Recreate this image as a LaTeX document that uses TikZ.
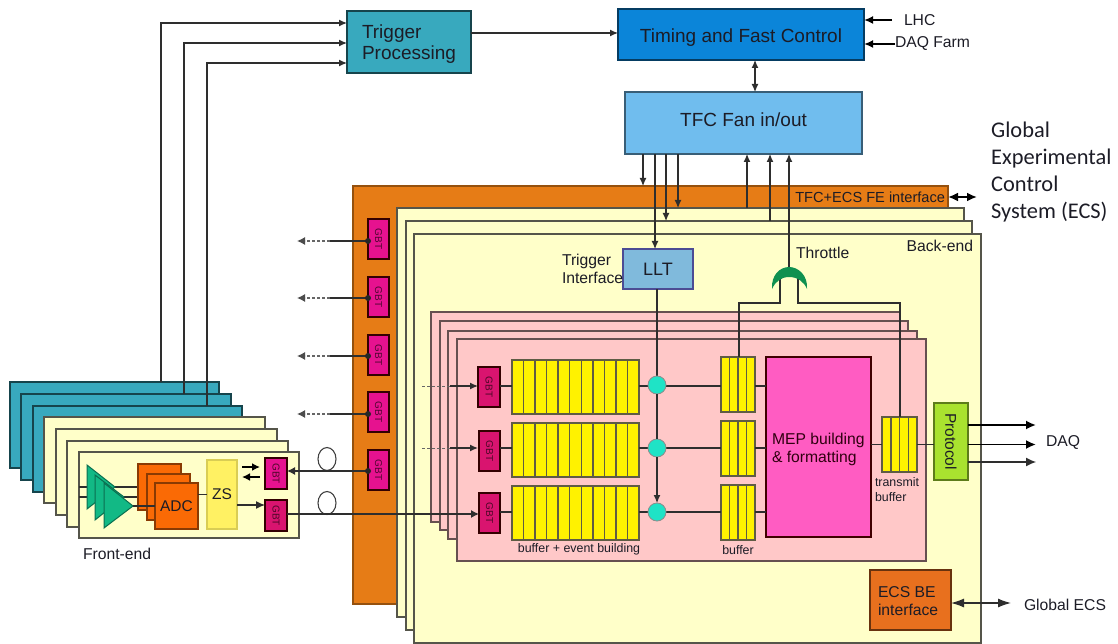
\documentclass[tikz,border=0pt]{standalone}
\usepackage{fontspec}
\usepackage{graphicx}
\setmainfont{Liberation Sans}
\newfontfamily\cali{Carlito}
\usetikzlibrary{arrows.meta,calc,shapes.geometric}
\definecolor{tealbox}{HTML}{38A9BE}
\definecolor{tfcblue}{HTML}{0B85D9}
\definecolor{fanblue}{HTML}{70BDEE}
\definecolor{lltblue}{HTML}{80BADC}
\definecolor{creamb}{HTML}{FFFFC9}
\definecolor{pinkb}{HTML}{FFC8C8}
\definecolor{orangeb}{HTML}{E67C16}
\definecolor{ecsor}{HTML}{E8701E}
\definecolor{adcor}{HTML}{FA6A05}
\definecolor{yellowb}{HTML}{FFF200}
\definecolor{zsy}{HTML}{FFF163}
\definecolor{circ}{HTML}{1FE3C6}
\definecolor{gbta}{HTML}{E6128F}
\definecolor{gbtb}{HTML}{D9146F}
\definecolor{mepc}{HTML}{FF5CC2}
\definecolor{protoc}{HTML}{A9E22F}
\definecolor{ampc}{HTML}{12B985}
\definecolor{gatec}{HTML}{0F9150}
\definecolor{edge}{HTML}{55554A}
\definecolor{ink}{HTML}{1C1C26}
\newcommand{\fsz}[2]{\fontsize{#1}{#2}\selectfont}
% \bx[style]{name}{x1}{y1}{x2}{y2}{text}
\newcommand{\bx}[7][]{%
  \pgfmathsetmacro{\bxw}{#5-#3}\pgfmathsetmacro{\bxh}{#6-#4}%
  \node[boxb,#1,minimum width=\bxw pt,minimum height=\bxh pt] (#2) at ({(#3+#5)/2},{(#4+#6)/2}) {#7};}
% cell dividers in a buffer
\newcommand{\cells}[2]{%
  \pgfmathtruncatemacro{\cellsl}{#2-1}%
  \foreach \ci in {1,...,\cellsl}{%
    \draw[cellline] ($(#1.north west)!\ci/#2!(#1.north east)$) -- ($(#1.south west)!\ci/#2!(#1.south east)$);}}
\newcommand{\gb}[1]{\rotatebox{-90}{#1}}
\tikzset{
  boxb/.style={rectangle,draw=edge,line width=1.1pt,inner sep=0pt,outer sep=0pt,text=ink,align=center},
  lab/.style={inner sep=0pt,outer sep=0pt,text=ink,align=left,font=\fsz{15.7}{18}},
  small/.style={lab,font=\fsz{12.4}{15}},
  buf/.style={fill=yellowb,draw=black!72!yellow,line width=1.2pt},
  cellline/.style={draw=black!72!yellow,line width=1.5pt},
  gbtA/.style={fill=gbta,draw=black!80!red,line width=1.5pt,font=\fsz{10}{11},text=black!65!gbta},
  gbtB/.style={fill=gbtb,draw=black!80!red,line width=1.5pt,font=\fsz{10}{11},text=black!65!gbtb},
  wire/.style={draw=black!82,line width=1.2pt},
  arr/.style={wire,-{Latex[length=8pt,width=7pt]}},
  arrthick/.style={draw=black,line width=1.8pt,-{Latex[length=10pt,width=9pt]}},
  dbl/.style={draw=black,line width=2pt,{Latex[length=10pt,width=9pt]}-{Latex[length=10pt,width=9pt]}},
  dbls/.style={wire,{Latex[length=8pt,width=7pt]}-{Latex[length=8pt,width=7pt]}},
  dashwire/.style={draw=black!60,line width=1.4pt,densely dashed},
  fibre/.style={ellipse,draw=black!75,line width=1.1pt,fill=white,minimum width=18pt,minimum height=23pt,inner sep=0pt},
  dotc/.style={circle,fill=circ,draw=black!45,line width=0.8pt,minimum size=18pt,inner sep=0pt,outer sep=0pt},
}
\begin{document}
\begin{tikzpicture}[x=1pt,y=-1pt]
\useasboundingbox (0,0) rectangle (1118,644);

% --- free-end and alignment coordinates
\foreach \xv in {161,184,207,643,655,657,666,678,739,747,770,780,789,798,900,297,305,330,422,450,1036}
  {\coordinate (x\xv) at (\xv,0);}
\foreach \yv in {23,43,63,241,298,356,414,471,386,448,514,303,425,462}
  {\coordinate (y\yv) at (0,\yv);}

% --- top blocks
\bx[fill=tealbox,draw=black!60!tealbox]{trig}{347}{11}{471}{73}{}
\node[lab,font=\fsz{19}{21},anchor=west] (trigt) at (362,44) {Trigger\\Processing};
\bx[fill=tfcblue,draw=black!55!tfcblue,font=\fsz{19}{21}]{tfc}{618}{9}{864}{60}{\raisebox{-8.5pt}[0pt][0pt]{Timing and Fast Control}}
\bx[fill=fanblue,draw=black!50!fanblue,font=\fsz{19}{21}]{fan}{625}{92}{862}{154}{\raisebox{-4pt}[0pt][0pt]{TFC Fan in/out}}
\node[lab,anchor=west] (lhc) at (904,20.5) {LHC};
\node[lab,anchor=west] (daqf) at (895,44) {DAQ Farm};
\coordinate (lhcs) at (892,20);
\draw[arrthick,-{Latex[length=9pt,width=8pt]}] (lhcs) -- (lhcs -| tfc.east);
\draw[arrthick,-{Latex[length=9pt,width=8pt]}] (daqf.west) -- (daqf.west -| tfc.east);
\draw[arr] (trig.east |- 0,33) -- (tfc.west |- 0,33);
\draw[dbls] (tfc.south -| 755,0) -- (fan.north -| 755,0);

% --- back-end stack
\bx[fill=orangeb,draw=black!35!orangeb]{be0}{353}{186}{948}{604}{}
\bx[fill=creamb]{be1}{397}{208}{964}{617}{}
\bx[fill=creamb]{be2}{406}{221}{972}{630}{}
\bx[fill=creamb]{be3}{414}{234}{981}{643}{}
\node[lab,font=\fsz{14.6}{16},anchor=east] (ifc) at (945,197) {TFC+ECS FE interface};
\node[lab,anchor=east] (bet) at (973,246) {Back-end};
\coordinate (ifcr) at (977,197);
\draw[dbl] (be0.east |- ifcr) -- (ifcr);

% --- GBT on the orange band
\bx[gbtA]{ga1}{368}{219}{389}{259}{\gb{GBT}}
\bx[gbtA]{ga2}{368}{277}{389}{317}{\gb{GBT}}
\bx[gbtA]{ga3}{368}{335}{389}{375}{\gb{GBT}}
\bx[gbtA]{ga4}{368}{392}{389}{432}{\gb{GBT}}
\bx[gbtA]{ga5}{368}{450}{389}{490}{\gb{GBT}}
\foreach \nn/\yy in {ga1/241,ga2/298,ga3/356,ga4/414}{
  \draw[dashwire] (x330 |- y\yy) -- (x305 |- y\yy);
  \draw[wire,line width=1.5pt] (\nn.west |- y\yy) -- (x330 |- y\yy);
  \fill[black!85] (\nn.west |- y\yy) circle (3pt);
  \draw[draw=black!70,line width=1.2pt,-{Latex[length=8pt,width=8pt]}] (x305 |- y\yy) -- (x297 |- y\yy);
}

% --- pink stack
\bx[fill=pinkb,draw=black!60!pinkb]{p1}{431}{312}{900}{522}{}
\bx[fill=pinkb,draw=black!60!pinkb]{p2}{440}{321}{908}{530}{}
\bx[fill=pinkb,draw=black!60!pinkb]{p3}{448}{331}{917}{539}{}
\bx[fill=pinkb,draw=black!60!pinkb]{p4}{457}{339}{926}{561}{}

% --- LLT and gate
\bx[fill=lltblue,draw=black!30!blue!40!gray,line width=2.2pt,font=\fsz{18}{20}]{llt}{623}{249}{693}{289}{LLT}
\node[lab,anchor=west] (tint) at (562,268.5) {Trigger\\Interface};
\node[lab,anchor=west] (thr) at (796,252.5) {Throttle};

% --- row buffers
\bx[gbtB]{gb1}{478}{367}{500}{407}{\gb{GBT}}
\bx[gbtB]{gb2}{479}{431}{500}{471}{\gb{GBT}}
\bx[gbtB]{gb3}{479}{493}{500}{533}{\gb{GBT}}
\bx[buf]{bb1}{512}{360}{639}{414}{}
\bx[buf]{bb2}{512}{423}{639}{477}{}
\bx[buf]{bb3}{512}{486}{639}{540}{}
\bx[buf]{sb1}{721}{357}{755}{412}{}
\bx[buf]{sb2}{721}{421}{755}{476}{}
\bx[buf]{sb3}{721}{485}{755}{540}{}
\bx[fill=mepc,draw=black!75!red,line width=1.7pt]{mep}{766}{357}{871}{537}{}
\bx[buf]{tb}{882}{417}{917}{472}{}
\foreach \nn in {bb1,bb2,bb3}{\cells{\nn}{11}}
\foreach \nn in {sb1,sb2,sb3,tb}{\cells{\nn}{4}}
\node[lab,anchor=west,text=black!75!purple] (mept) at (772,449) {MEP building\\\& formatting};
\node[small] (bevt) at (579,549.5) {buffer + event building};
\node[small] (buft) at (738,550.5) {buffer};
\node[small,anchor=west] (tbt) at (875,490) {transmit\\buffer};

% --- row wiring
\foreach \g/\bb/\sbn/\yy in {gb1/bb1/sb1/386,gb2/bb2/sb2/448,gb3/bb3/sb3/512}{
  \coordinate (ry) at (0,\yy);
  \draw[wire] (\g.east |- ry) -- (\bb.west |- ry);
  \draw[wire] (\bb.east |- ry) -- (\sbn.west |- ry);
  \draw[wire] (\sbn.east |- ry) -- (mep.west |- ry);
}
\draw[wire] (llt.south -| x657) -- (x657 |- y448);
\node[dotc] (c1) at (657,385) {};
\node[dotc] (c2) at (657,448) {};
\node[dotc] (c3) at (657,512) {};
\draw[wire] (c1) -- (c2);
\draw[arr] (c2) -- (c3);
\foreach \yy in {386,448}{
  \draw[dashwire,line width=1pt] (x422 |- y\yy) -- (x450 |- y\yy);
  \draw[arr] (x450 |- y\yy) -- (gb1.west |- y\yy);
}

% --- throttle gate
\coordinate (gtop) at (789,267);
\coordinate (gl) at (780,278);
\coordinate (gr) at (798,278);
\draw[wire] (sb1.north -| x739) -- (x739 |- y303) -- (x780 |- y303) -- (gl);
\draw[wire] (tb.north -| x900) -- (x900 |- y303) -- (x798 |- y303) -- (gr);
\fill[gatec] (772,289) .. controls (771,275) and (780,267) .. (gtop)
  .. controls (798,267) and (808,275) .. (807,289)
  .. controls (804,282) and (798,277) .. (789,277)
  .. controls (781,277) and (775,282) .. (772,289) -- cycle;
\draw[arr] (gtop) -- (fan.south -| x789);

% --- TFC fan connections
\draw[arr] (fan.south -| x643) -- (be0.north -| x643);
\draw[arr] (fan.south -| x655) -- (llt.north -| x655);
\draw[arr] (fan.south -| x666) -- (be2.north -| x666);
\draw[arr] (fan.south -| x678) -- (be1.north -| x678);
\draw[arr] (be1.north -| x747) -- (fan.south -| x747);
\draw[arr] (be2.north -| x770) -- (fan.south -| x770);

% --- protocol and outputs
\bx[fill=protoc,draw=black!45!protoc]{prot}{934}{403}{968}{480}{\fsz{15.5}{17}\gb{Protocol}}
\draw[wire] (mep.east |- tb.west) -- (tb.west);
\draw[wire,line width=1.6pt] (tb.east) -- (prot.west |- tb.east);
\node[lab,anchor=west] (daq) at (1046,442) {DAQ};
\draw[arrthick] (prot.east |- y425) -- (x1036 |- y425);
\draw[arrthick] (prot.east |- tb.east) -- (x1036 |- tb.east);
\draw[wire,-{Latex[length=10pt,width=9pt]}] (prot.east |- y462) -- (x1036 |- y462);

% --- ECS BE
\bx[fill=ecsor,draw=black!55!ecsor]{ecs}{870}{570}{951}{630}{}
\node[lab,anchor=west] (ecst) at (878,601) {ECS BE\\interface};
\node[lab,anchor=west] (gecs) at (1024,604.5) {Global ECS};
\coordinate (gecsl) at (1011,603);
\draw[wire,{Latex[length=13pt,width=9pt]}-{Latex[length=13pt,width=9pt]}] (ecs.east |- gecsl) -- (gecsl);

% --- Global ECS text
\node[inner sep=0pt,anchor=north west,align=left,text=ink,font=\cali\fsz{22.4}{27}] (glob) at (991,122)
  {Global\\Experimental\\Control\\System (ECS)};

% --- front-end stack
\bx[fill=tealbox,draw=black!60!tealbox]{ft1}{10}{382}{219}{468}{}
\bx[fill=tealbox,draw=black!60!tealbox]{ft2}{21}{394}{231}{480}{}
\bx[fill=tealbox,draw=black!60!tealbox]{ft3}{33}{406}{242}{492}{}
\bx[fill=creamb]{fc1}{44}{417}{265}{503}{}
\bx[fill=creamb]{fc2}{56}{429}{277}{515}{}
\bx[fill=creamb]{fc3}{67}{441}{288}{527}{}
\bx[fill=creamb]{fc4}{79}{452}{299}{538}{}
\node[lab,anchor=west] (fet) at (83,553.5) {Front-end};
\draw[arr] (ft1.north -| x161) |- (trig.west |- y23);
\draw[arr] (ft2.north -| x184) |- (trig.west |- y43);
\draw[arr] (ft3.north -| x207) |- (trig.west |- y63);

% --- front-end inner parts
\coordinate (a1) at (115,487);
\coordinate (a2) at (124,497);
\coordinate (a3) at (133,506);
\draw[wire] (fc4.west |- a1) -- (a1 -| 138,0);
\draw[wire] (fc4.west |- a2) -- (a2 -| 147,0);
\bx[fill=adcor,draw=black!45!adcor]{adc1}{138}{464}{181}{510}{}
\bx[fill=adcor,draw=black!45!adcor]{adc2}{147}{474}{190}{520}{}
\bx[fill=adcor,draw=black!45!adcor,font=\fsz{15.5}{17}]{adc3}{155}{483}{198}{529}{ADC}
\draw[fill=ampc,draw=black!40!ampc,line width=1pt] (87,465) -- (a1) -- (87,509) -- cycle;
\draw[fill=ampc,draw=black!40!ampc,line width=1pt] (95,475) -- (a2) -- (95,520) -- cycle;
\draw[fill=ampc,draw=black!40!ampc,line width=1pt] (104,483) -- (a3) -- (104,528) -- cycle;
\draw[wire] (a3) -- (adc3.west |- a3);
\bx[fill=zsy,draw=zsy!85!black,font=\fsz{15.5}{17}]{zs}{207}{460}{237}{529}{ZS}
\draw[wire] (adc3.east |- zs) -- (zs.west);
\bx[gbtB,fill=gbta]{gf1}{265}{458}{287}{489}{\gb{GBT}}
\bx[gbtB,fill=gbtb]{gf2}{265}{500}{287}{531}{\gb{GBT}}
\coordinate (ss1) at (242,467);
\coordinate (ss2) at (260,477);
\draw[arrthick,-{Latex[length=8pt,width=8pt]}] (ss1) -- (ss1 -| ss2);
\draw[arrthick,-{Latex[length=8pt,width=8pt]}] (ss2) -- (ss2 -| ss1);
\coordinate (zo) at (237,505);
\draw[wire,-{Latex[length=9pt,width=8pt]}] (zo) -- (zo -| gf2.west);

% --- fibre links
\node[fibre] (f1) at (327,459) {};
\node[fibre] (f2) at (327,503) {};
\draw[wire,-{Latex[length=8pt,width=8pt]}] (ga5.west |- y471) -- (gf1.east |- y471);
\fill[black!85] (ga5.west |- y471) circle (3pt);
\draw[wire,-{Latex[length=8pt,width=8pt]}] (gf2.east |- y514) -- (gb3.west |- y514);
\end{tikzpicture}
\end{document}
